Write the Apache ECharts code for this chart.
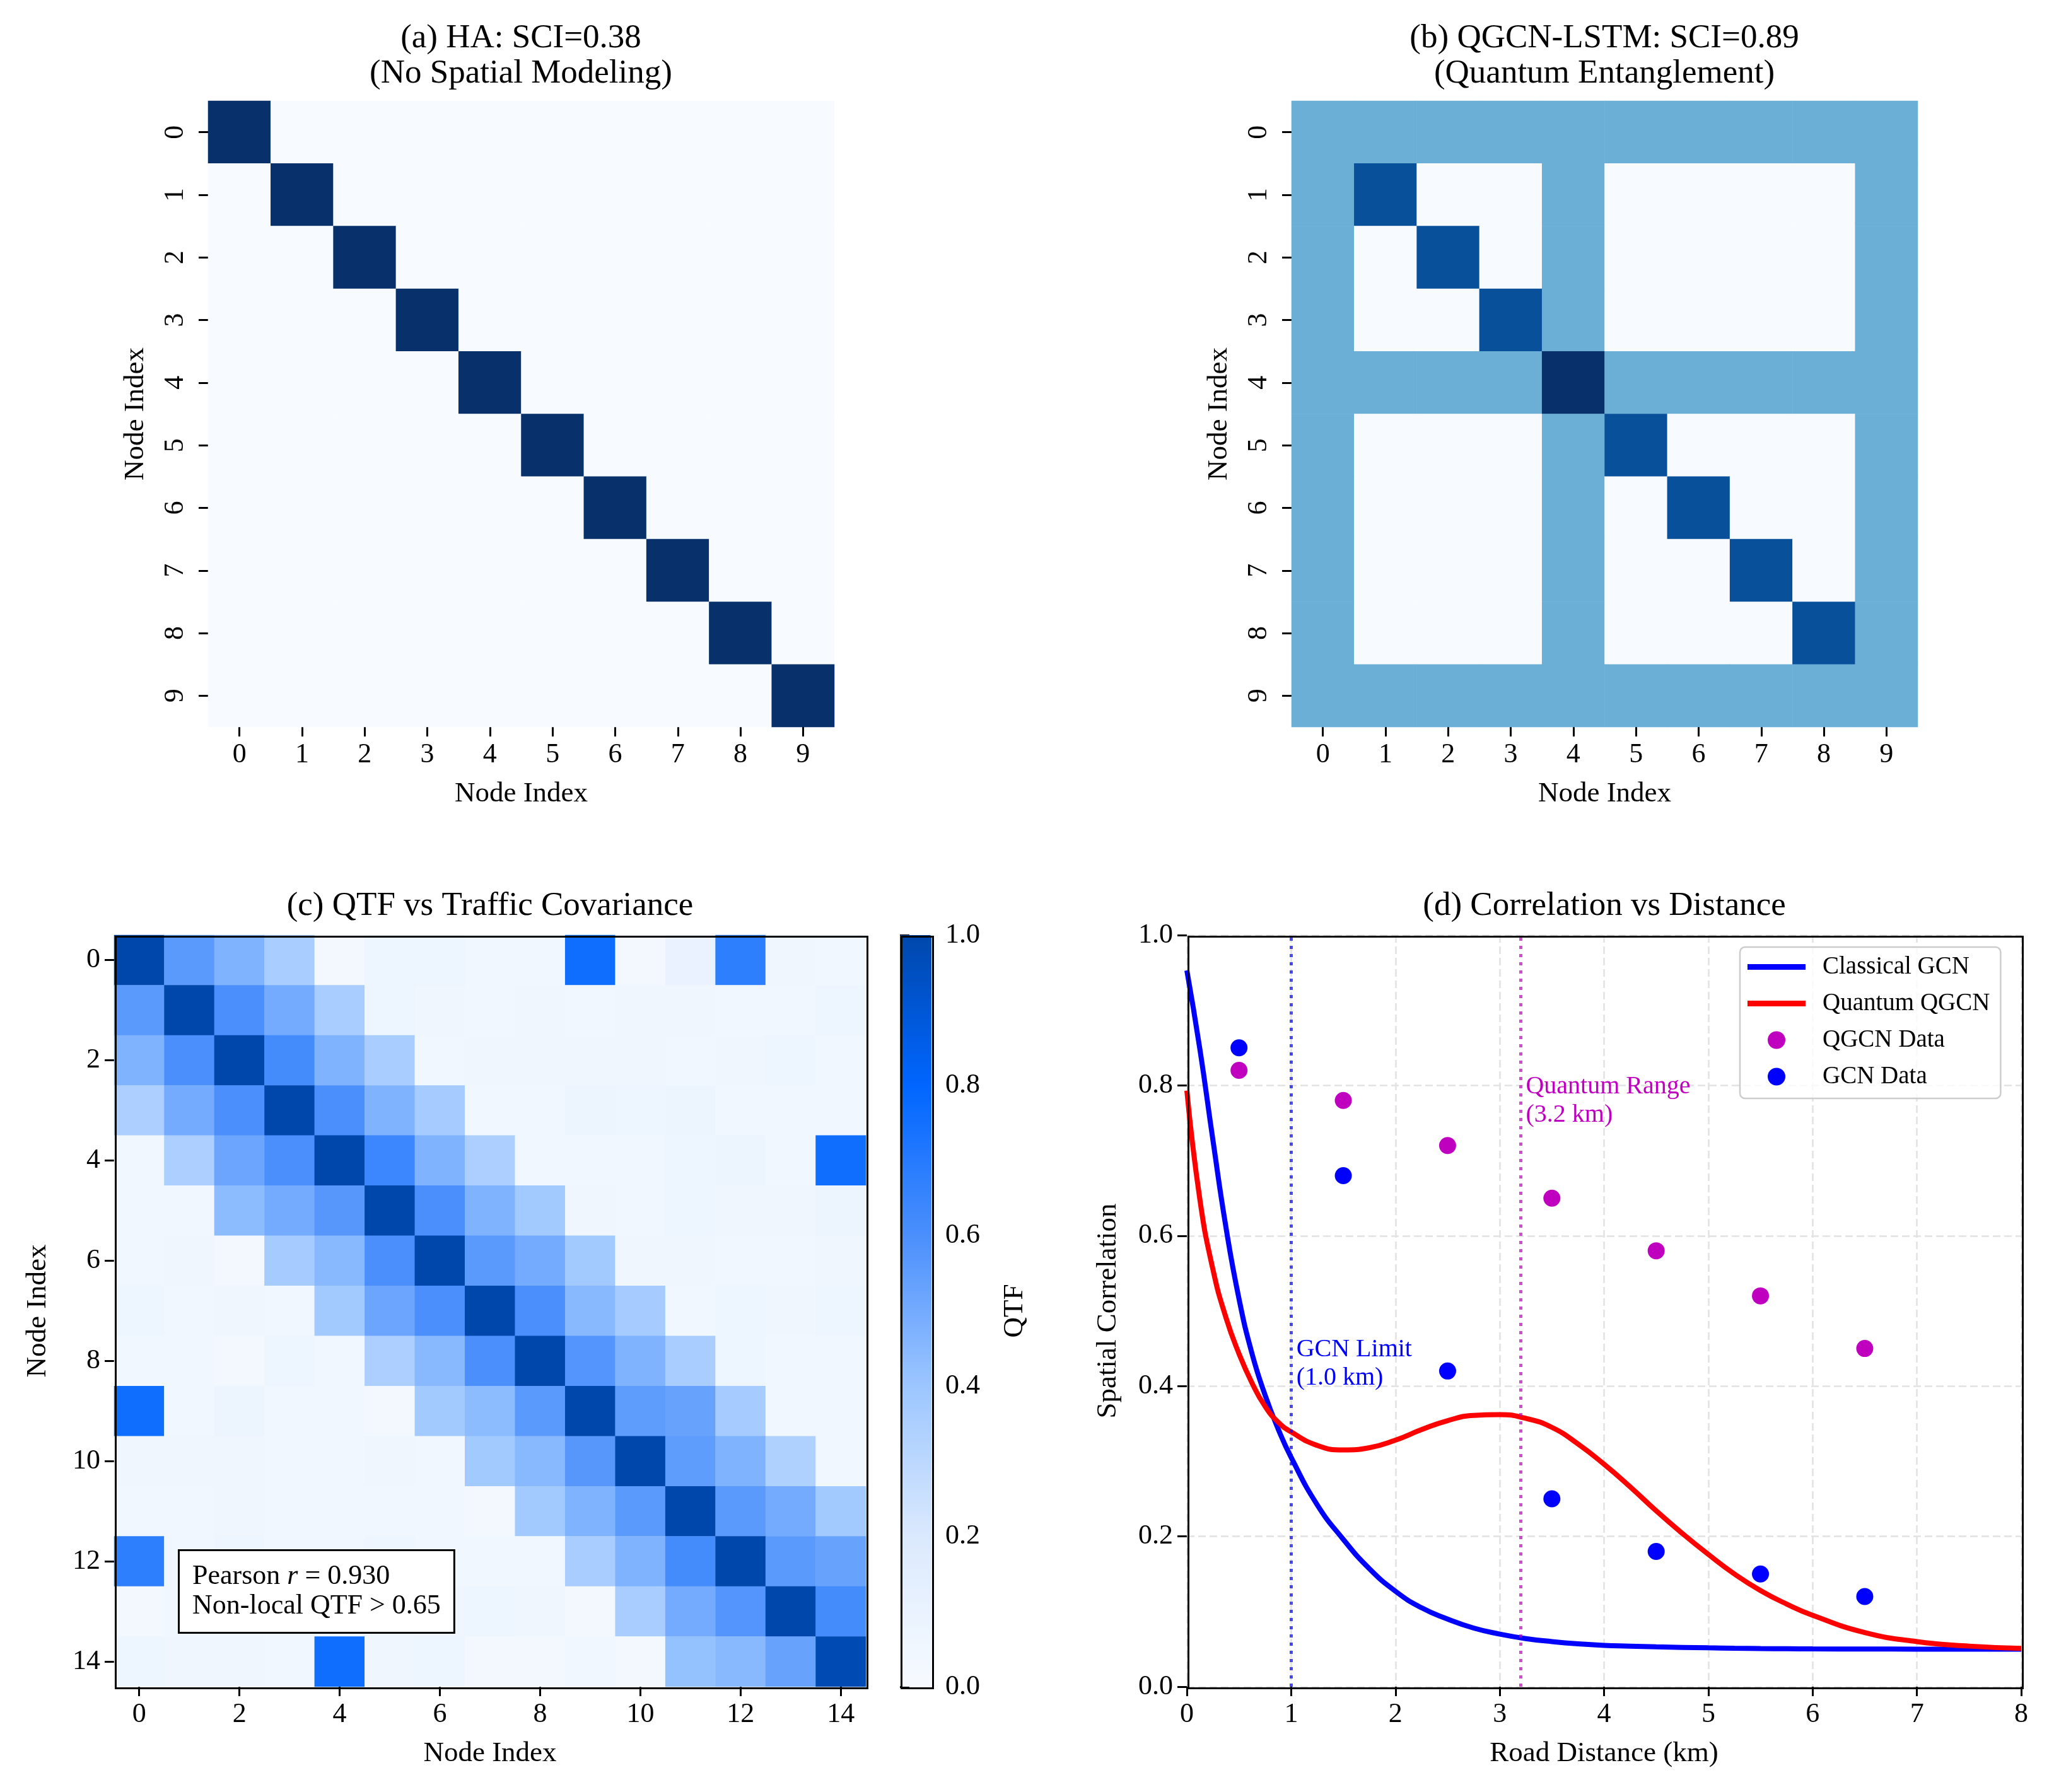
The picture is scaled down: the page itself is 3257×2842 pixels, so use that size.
<!DOCTYPE html>
<html>
<head>
<meta charset="utf-8">
<script src="https://cdn.jsdelivr.net/npm/echarts@6/dist/echarts.min.js"></script>
<style>
html, body { margin: 0; padding: 0; background: #fff; }
#main { width: 3257px; height: 2842px; }
</style>
</head>
<body>
<div id="main"></div>
<script>
// ---- data ----
var nodes10 = ['0', '1', '2', '3', '4', '5', '6', '7', '8', '9'];
var nodes15 = ['0', '1', '2', '3', '4', '5', '6', '7', '8', '9', '10', '11', '12', '13', '14'];

// (a) HA: no spatial coupling
var haMatrix = [
    [1, 0, 0, 0, 0, 0, 0, 0, 0, 0],
    [0, 1, 0, 0, 0, 0, 0, 0, 0, 0],
    [0, 0, 1, 0, 0, 0, 0, 0, 0, 0],
    [0, 0, 0, 1, 0, 0, 0, 0, 0, 0],
    [0, 0, 0, 0, 1, 0, 0, 0, 0, 0],
    [0, 0, 0, 0, 0, 1, 0, 0, 0, 0],
    [0, 0, 0, 0, 0, 0, 1, 0, 0, 0],
    [0, 0, 0, 0, 0, 0, 0, 1, 0, 0],
    [0, 0, 0, 0, 0, 0, 0, 0, 1, 0],
    [0, 0, 0, 0, 0, 0, 0, 0, 0, 1]
];

// (b) QGCN-LSTM entanglement pattern
var qgcnMatrix = [
    [0.5, 0.5, 0.5, 0.5, 0.5, 0.5, 0.5, 0.5, 0.5, 0.5],
    [0.5, 0.88, 0, 0, 0.5, 0, 0, 0, 0, 0.5],
    [0.5, 0, 0.88, 0, 0.5, 0, 0, 0, 0, 0.5],
    [0.5, 0, 0, 0.88, 0.5, 0, 0, 0, 0, 0.5],
    [0.5, 0.5, 0.5, 0.5, 1.0, 0.5, 0.5, 0.5, 0.5, 0.5],
    [0.5, 0, 0, 0, 0.5, 0.88, 0, 0, 0, 0.5],
    [0.5, 0, 0, 0, 0.5, 0, 0.88, 0, 0, 0.5],
    [0.5, 0, 0, 0, 0.5, 0, 0, 0.88, 0, 0.5],
    [0.5, 0, 0, 0, 0.5, 0, 0, 0, 0.88, 0.5],
    [0.5, 0.5, 0.5, 0.5, 0.5, 0.5, 0.5, 0.5, 0.5, 0.5]
];

// (c) QTF matrix, 15 x 15
var qtfMatrix = [
    [1.00, 0.56, 0.47, 0.36, 0.03, 0.07, 0.07, 0.05, 0.04, 0.76, 0.03, 0.10, 0.68, 0.06, 0.04],
    [0.56, 1.00, 0.60, 0.50, 0.36, 0.07, 0.06, 0.05, 0.06, 0.05, 0.06, 0.06, 0.05, 0.05, 0.07],
    [0.47, 0.60, 1.00, 0.62, 0.47, 0.36, 0.04, 0.06, 0.06, 0.06, 0.06, 0.05, 0.06, 0.07, 0.04],
    [0.35, 0.50, 0.60, 1.00, 0.60, 0.47, 0.37, 0.05, 0.05, 0.08, 0.07, 0.08, 0.05, 0.04, 0.04],
    [0.04, 0.35, 0.52, 0.60, 1.00, 0.64, 0.47, 0.35, 0.05, 0.05, 0.05, 0.07, 0.08, 0.05, 0.76],
    [0.05, 0.05, 0.44, 0.50, 0.57, 1.00, 0.60, 0.47, 0.38, 0.06, 0.05, 0.07, 0.06, 0.06, 0.08],
    [0.05, 0.06, 0.03, 0.37, 0.45, 0.60, 1.00, 0.56, 0.50, 0.38, 0.06, 0.06, 0.05, 0.05, 0.06],
    [0.07, 0.05, 0.06, 0.04, 0.38, 0.52, 0.60, 1.00, 0.60, 0.45, 0.37, 0.05, 0.07, 0.06, 0.07],
    [0.05, 0.05, 0.03, 0.07, 0.05, 0.35, 0.45, 0.60, 1.00, 0.58, 0.47, 0.36, 0.07, 0.05, 0.04],
    [0.76, 0.05, 0.08, 0.05, 0.05, 0.03, 0.38, 0.44, 0.56, 1.00, 0.55, 0.53, 0.37, 0.04, 0.04],
    [0.06, 0.06, 0.06, 0.05, 0.05, 0.06, 0.05, 0.38, 0.45, 0.57, 1.00, 0.55, 0.47, 0.34, 0.04],
    [0.05, 0.05, 0.06, 0.05, 0.04, 0.05, 0.04, 0.03, 0.38, 0.47, 0.56, 1.00, 0.56, 0.50, 0.38],
    [0.68, 0.05, 0.07, 0.05, 0.05, 0.07, 0.05, 0.04, 0.04, 0.36, 0.47, 0.62, 1.00, 0.56, 0.53],
    [0.03, 0.05, 0.05, 0.05, 0.05, 0.06, 0.06, 0.07, 0.06, 0.03, 0.36, 0.50, 0.58, 1.00, 0.62],
    [0.07, 0.06, 0.06, 0.05, 0.76, 0.06, 0.07, 0.03, 0.03, 0.04, 0.03, 0.42, 0.45, 0.53, 0.98]
];

// (d) correlation vs distance (curves)
var distKm = [0, 0.125, 0.25, 0.375, 0.5, 0.625, 0.75, 0.875, 1, 1.25, 1.5, 1.75, 2, 2.25, 2.5, 2.75,
    3, 3.25, 3.5, 3.75, 4, 4.25, 4.5, 4.75, 5, 5.25, 5.5, 5.75, 6, 6.5, 7, 7.5, 8];
var classicalGcn = [0.953, 0.848, 0.727, 0.611, 0.516, 0.443, 0.388, 0.343, 0.305, 0.242, 0.196, 0.157,
    0.127, 0.105, 0.09, 0.078, 0.07, 0.064, 0.06, 0.057, 0.055, 0.054, 0.053, 0.0523, 0.0517, 0.0512,
    0.0508, 0.0505, 0.0503, 0.0501, 0.05, 0.05, 0.05];
var quantumQgcn = [0.793, 0.648, 0.555, 0.491, 0.443, 0.404, 0.373, 0.352, 0.339, 0.321, 0.315, 0.318,
    0.328, 0.342, 0.354, 0.361, 0.362, 0.357, 0.345, 0.323, 0.296, 0.266, 0.234, 0.204, 0.176, 0.15,
    0.128, 0.11, 0.095, 0.072, 0.06, 0.054, 0.051];
var sampleKm = [0.5, 1.5, 2.5, 3.5, 4.5, 5.5, 6.5];
var qgcnPoints = [0.82, 0.78, 0.72, 0.65, 0.58, 0.52, 0.45];
var gcnPoints = [0.85, 0.68, 0.42, 0.25, 0.18, 0.15, 0.12];

var gcnLimitKm = 1.0;
var quantumRangeKm = 3.2;

// ---- styles ----
var FONT = "'Liberation Serif', 'Times New Roman', serif";
var BLUES = ['#f7fbff', '#deebf7', '#c6dbef', '#9ecae1', '#6baed6', '#4292c6', '#2171b5', '#08519c', '#08306b'];
var QTF_COLORS = ['#f7fbff', '#dbe9fd', '#9cc6ff', '#4b8ffc', '#0066ff', '#0047ab'];
var LINE_ICON = 'path://M0,0L92,0L92,9L0,9Z';

var boxA = { left: 330, top: 160, width: 993, height: 993 };
var boxB = { left: 2048, top: 160, width: 993, height: 993 };
var boxC = { left: 181, top: 1483, width: 1192, height: 1192 };
var boxBar = { left: 1427, top: 1483, width: 50, height: 1192 };
var boxD = { left: 1882, top: 1483, width: 1323, height: 1192 };

var labelStyle = { fontSize: 44, color: '#000', fontFamily: FONT };
var nameStyle = { fontSize: 45, color: '#000', fontFamily: FONT };
var tickStyle = { show: true, length: 15, lineStyle: { color: '#000', width: 3 } };
var gridLine = { show: true, lineStyle: { color: '#e2e2e2', width: 2.5, type: [12, 6] } };

function ext(a, b) {
    var o = {}, k;
    for (k in a) o[k] = a[k];
    for (k in b) o[k] = b[k];
    return o;
}
function cells(m) {
    var out = [];
    for (var i = 0; i < m.length; i++) {
        for (var j = 0; j < m[i].length; j++) {
            out.push([j, i, m[i][j]]);
        }
    }
    return out;
}
function pairs(xs, ys) {
    return xs.map(function (x, i) { return [x, ys[i]]; });
}

function catX(grid, cats, interval) {
    return {
        type: 'category', gridIndex: grid, data: cats, position: 'bottom',
        axisLine: { show: false },
        axisTick: { show: true, length: 15, alignWithLabel: true, interval: interval, lineStyle: { color: '#000', width: 3 } },
        axisLabel: ext(labelStyle, { margin: 22, interval: interval }),
        splitLine: { show: false },
        name: 'Node Index', nameLocation: 'middle', nameGap: 84, nameTextStyle: nameStyle
    };
}
function catY(grid, cats, interval, rotate, nameGap) {
    return {
        type: 'category', gridIndex: grid, data: cats, inverse: true,
        axisLine: { show: false },
        axisTick: { show: true, length: 15, alignWithLabel: true, interval: interval, lineStyle: { color: '#000', width: 3 } },
        axisLabel: ext(labelStyle, { margin: rotate ? 30 : 22, interval: interval, rotate: rotate }),
        splitLine: { show: false },
        name: 'Node Index', nameLocation: 'middle', nameGap: nameGap, nameTextStyle: nameStyle
    };
}

var chart = echarts.init(document.getElementById('main'), null, { renderer: 'canvas', devicePixelRatio: 1 });

var titleText = ext(nameStyle, { fontSize: 53, fontWeight: 'normal', lineHeight: 56 });

var option = {
    backgroundColor: '#fff',
    animation: false,
    textStyle: { fontFamily: FONT },
    title: [
        { text: '(a) HA: SCI=0.38\n(No Spatial Modeling)', left: 826, top: 33, textAlign: 'center', padding: 0, textStyle: titleText },
        { text: '(b) QGCN-LSTM: SCI=0.89\n(Quantum Entanglement)', left: 2544, top: 33, textAlign: 'center', padding: 0, textStyle: titleText },
        { text: '(c) QTF vs Traffic Covariance', left: 777, top: 1409, textAlign: 'center', padding: 0, textStyle: titleText },
        { text: '(d) Correlation vs Distance', left: 2544, top: 1409, textAlign: 'center', padding: 0, textStyle: titleText }
    ],
    grid: [boxA, boxB, boxC, boxBar, boxD],
    xAxis: [
        catX(0, nodes10, 0),
        catX(1, nodes10, 0),
        catX(2, nodes15, 1),
        { type: 'value', gridIndex: 3, show: false, min: 0, max: 1 },
        {
            type: 'value', gridIndex: 4, min: 0, max: 8, interval: 1,
            axisLine: { show: false },
            axisTick: tickStyle,
            axisLabel: ext(labelStyle, { margin: 22 }),
            splitLine: gridLine,
            name: 'Road Distance (km)', nameLocation: 'middle', nameGap: 84, nameTextStyle: nameStyle
        }
    ],
    yAxis: [
        catY(0, nodes10, 0, 90, 92),
        catY(1, nodes10, 0, 90, 92),
        catY(2, nodes15, 1, 0, 98),
        {
            type: 'value', gridIndex: 3, min: 0, max: 1, interval: 0.2, position: 'right',
            axisLine: { show: false },
            axisTick: tickStyle,
            axisLabel: ext(labelStyle, { margin: 22, formatter: function (v) { return v.toFixed(1); } }),
            splitLine: { show: false },
            name: 'QTF', nameLocation: 'middle', nameGap: 110, nameRotate: 90, nameTextStyle: nameStyle
        },
        {
            type: 'value', gridIndex: 4, min: 0, max: 1, interval: 0.2,
            axisLine: { show: false },
            axisTick: tickStyle,
            axisLabel: ext(labelStyle, { margin: 22, formatter: function (v) { return v.toFixed(1); } }),
            splitLine: gridLine,
            name: 'Spatial Correlation', nameLocation: 'middle', nameGap: 102, nameTextStyle: nameStyle
        }
    ],
    visualMap: [
        { type: 'continuous', min: 0, max: 1, seriesIndex: 0, show: false, inRange: { color: BLUES } },
        { type: 'continuous', min: 0, max: 1, seriesIndex: 1, show: false, inRange: { color: BLUES } },
        {
            type: 'continuous', min: 0, max: 1, seriesIndex: 2, show: true, calculable: false,
            orient: 'vertical', left: boxBar.left, top: boxBar.top, padding: 0,
            itemWidth: boxBar.width, itemHeight: boxBar.height, hoverLink: false,
            text: null, inRange: { color: QTF_COLORS }
        }
    ],
    legend: {
        orient: 'vertical', left: 2759, top: 1502,
        data: [
            { name: 'Classical GCN', icon: LINE_ICON },
            { name: 'Quantum QGCN', icon: LINE_ICON },
            { name: 'QGCN Data', icon: 'circle' },
            { name: 'GCN Data', icon: 'circle' }
        ],
        itemWidth: 92, itemHeight: 28, itemGap: 13, symbolKeepAspect: true,
        padding: [9, 17, 12, 12],
        backgroundColor: 'rgba(255,255,255,0.8)',
        borderColor: '#cccccc', borderWidth: 2.5, borderRadius: 8,
        textStyle: { fontSize: 39, lineHeight: 45, color: '#000', fontFamily: FONT, padding: [0, 0, 0, 22] }
    },
    series: [
        { type: 'heatmap', xAxisIndex: 0, yAxisIndex: 0, data: cells(haMatrix), itemStyle: { borderWidth: 0 } },
        { type: 'heatmap', xAxisIndex: 1, yAxisIndex: 1, data: cells(qgcnMatrix), itemStyle: { borderWidth: 0 } },
        { type: 'heatmap', xAxisIndex: 2, yAxisIndex: 2, data: cells(qtfMatrix), itemStyle: { borderWidth: 0 } },
        {
            name: 'Classical GCN', type: 'line', xAxisIndex: 4, yAxisIndex: 4,
            data: pairs(distKm, classicalGcn), smooth: 0.5,
            symbol: 'none', showSymbol: false, color: '#0000ff',
            itemStyle: { color: '#0000ff' },
            lineStyle: { color: '#0000ff', width: 8 },
            markLine: {
                silent: true, symbol: 'none', label: { show: false },
                lineStyle: { color: 'rgba(0,0,255,0.7)', type: [5, 8], width: 5 },
                data: [{ xAxis: gcnLimitKm }]
            }
        },
        {
            name: 'Quantum QGCN', type: 'line', xAxisIndex: 4, yAxisIndex: 4,
            data: pairs(distKm, quantumQgcn), smooth: 0.5,
            symbol: 'none', showSymbol: false, color: '#ff0000',
            itemStyle: { color: '#ff0000' },
            lineStyle: { color: '#ff0000', width: 8 },
            markLine: {
                silent: true, symbol: 'none', label: { show: false },
                lineStyle: { color: 'rgba(191,0,191,0.7)', type: [5, 8], width: 5 },
                data: [{ xAxis: quantumRangeKm }]
            }
        },
        {
            name: 'QGCN Data', type: 'scatter', xAxisIndex: 4, yAxisIndex: 4,
            data: pairs(sampleKm, qgcnPoints), symbol: 'circle', symbolSize: 27,
            color: '#bf00bf', itemStyle: { color: '#bf00bf', opacity: 1 }
        },
        {
            name: 'GCN Data', type: 'scatter', xAxisIndex: 4, yAxisIndex: 4,
            data: pairs(sampleKm, gcnPoints), symbol: 'circle', symbolSize: 27,
            color: '#0000ff', itemStyle: { color: '#0000ff', opacity: 1 }
        }
    ]
};

chart.setOption(option);

// annotations placed through the (d) axes
var gcnTxt = chart.convertToPixel({ gridIndex: 4 }, [1.05, 0.448]);
var qTxt = chart.convertToPixel({ gridIndex: 4 }, [3.25, 0.798]);

function frame(box) {
    return {
        type: 'rect', left: box.left, top: box.top, z: 60, silent: true,
        shape: { x: 0, y: 0, width: box.width, height: box.height },
        style: { fill: null, stroke: '#000', lineWidth: 3 }
    };
}

chart.setOption({
    graphic: [
        {
            type: 'text', left: gcnTxt[0], top: gcnTxt[1] - 23, z: 50,
            style: { text: 'GCN Limit\n(1.0 km)', fill: '#0000ff', fontSize: 40, lineHeight: 45, fontFamily: FONT }
        },
        {
            type: 'text', left: qTxt[0], top: qTxt[1] - 23, z: 50,
            style: { text: 'Quantum Range\n(3.2 km)', fill: '#bf00bf', fontSize: 40, lineHeight: 45, fontFamily: FONT }
        },
        frame(boxC),
        frame(boxBar),
        frame(boxD),
        {
            type: 'text', left: 282, top: 2457, z: 70,
            style: {
                text: '{n|Pearson }{i|r}{n| = 0.930}\n{n|Non-local QTF > 0.65}',
                rich: {
                    n: { fontSize: 44, lineHeight: 47, fontFamily: FONT, fill: '#000' },
                    i: { fontSize: 44, lineHeight: 47, fontFamily: FONT, fontStyle: 'italic', fill: '#000' }
                },
                backgroundColor: '#fff', borderColor: '#000', borderWidth: 3,
                padding: [17, 20, 17, 20]
            }
        }
    ]
});
</script>
</body>
</html>
